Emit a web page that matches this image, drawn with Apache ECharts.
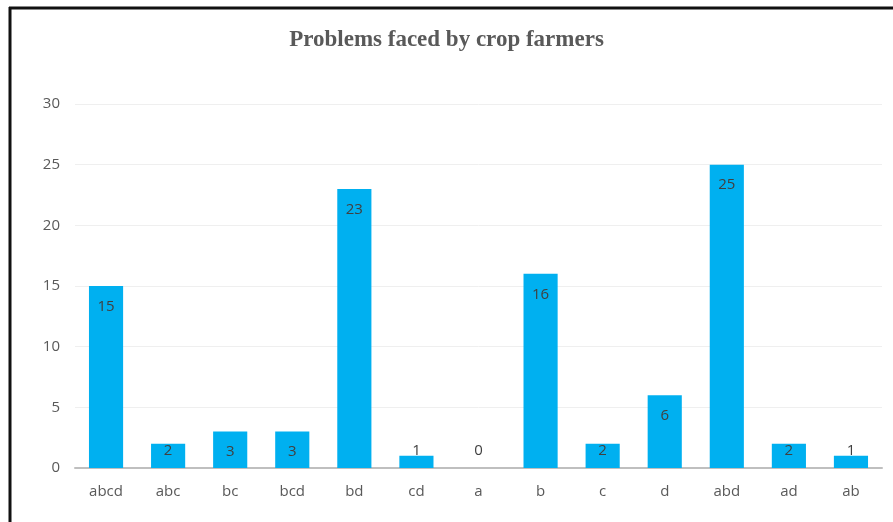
<!DOCTYPE html>
<html>
<head>
<meta charset="utf-8">
<script src="https://cdn.jsdelivr.net/npm/echarts@6/dist/echarts.min.js"></script>
<style>
  html, body { margin: 0; padding: 0; background: #fff; }
  #chart { width: 893px; height: 522px; }
</style>
</head>
<body>
<div id="chart"></div>
<script>
// Problem combinations reported by crop farmers
const categories = ['abcd', 'abc', 'bc', 'bcd', 'bd', 'cd', 'a', 'b', 'c', 'd', 'abd', 'ad', 'ab'];
const counts = [15, 2, 3, 3, 23, 1, 0, 16, 2, 6, 25, 2, 1];
const yTicks = { min: 0, max: 30, interval: 5 };

const chart = echarts.init(document.getElementById('chart'));

// short bars keep their label just above the axis, taller ones inside the top
const barData = counts.map(v => ({
  value: v,
  label: v <= 2
    ? { position: 'insideBottom', distance: 10 }
    : { position: 'insideTop', distance: 13 }
}));

chart.setOption({
  animation: false,
  title: {
    text: 'Problems faced by crop farmers',
    left: 'center',
    top: 24,
    textStyle: {
      fontFamily: '"Liberation Serif", serif',
      fontWeight: 'bold',
      fontSize: 23,
      color: '#595959'
    }
  },
  grid: { left: 75, right: 11, top: 104, bottom: 54, containLabel: false },
  xAxis: {
    type: 'category',
    data: categories,
    axisLine: { lineStyle: { color: '#bfbfbf', width: 2 } },
    axisTick: { show: false },
    axisLabel: {
      color: '#595959',
      fontFamily: '"Open Sans", sans-serif',
      fontSize: 15,
      margin: 16
    }
  },
  yAxis: {
    type: 'value',
    min: yTicks.min,
    max: yTicks.max,
    interval: yTicks.interval,
    axisLine: { show: false },
    axisTick: { show: false },
    splitLine: { lineStyle: { color: '#efefef', width: 1 } },
    axisLabel: {
      color: '#595959',
      fontFamily: '"Open Sans", sans-serif',
      fontSize: 15,
      margin: 15
    }
  },
  series: [{
    type: 'bar',
    data: barData,
    barWidth: '55%',
    itemStyle: { color: '#00b0f0' },
    label: {
      show: true,
      color: '#404040',
      fontFamily: '"Open Sans", sans-serif',
      fontSize: 15
    }
  }],
  graphic: [
    { type: 'line', shape: { x1: 9, y1: 8, x2: 893, y2: 8 }, style: { stroke: '#111', lineWidth: 3 } },
    { type: 'line', shape: { x1: 10, y1: 7, x2: 10, y2: 522 }, style: { stroke: '#111', lineWidth: 3 } }
  ]
});
</script>
</body>
</html>
